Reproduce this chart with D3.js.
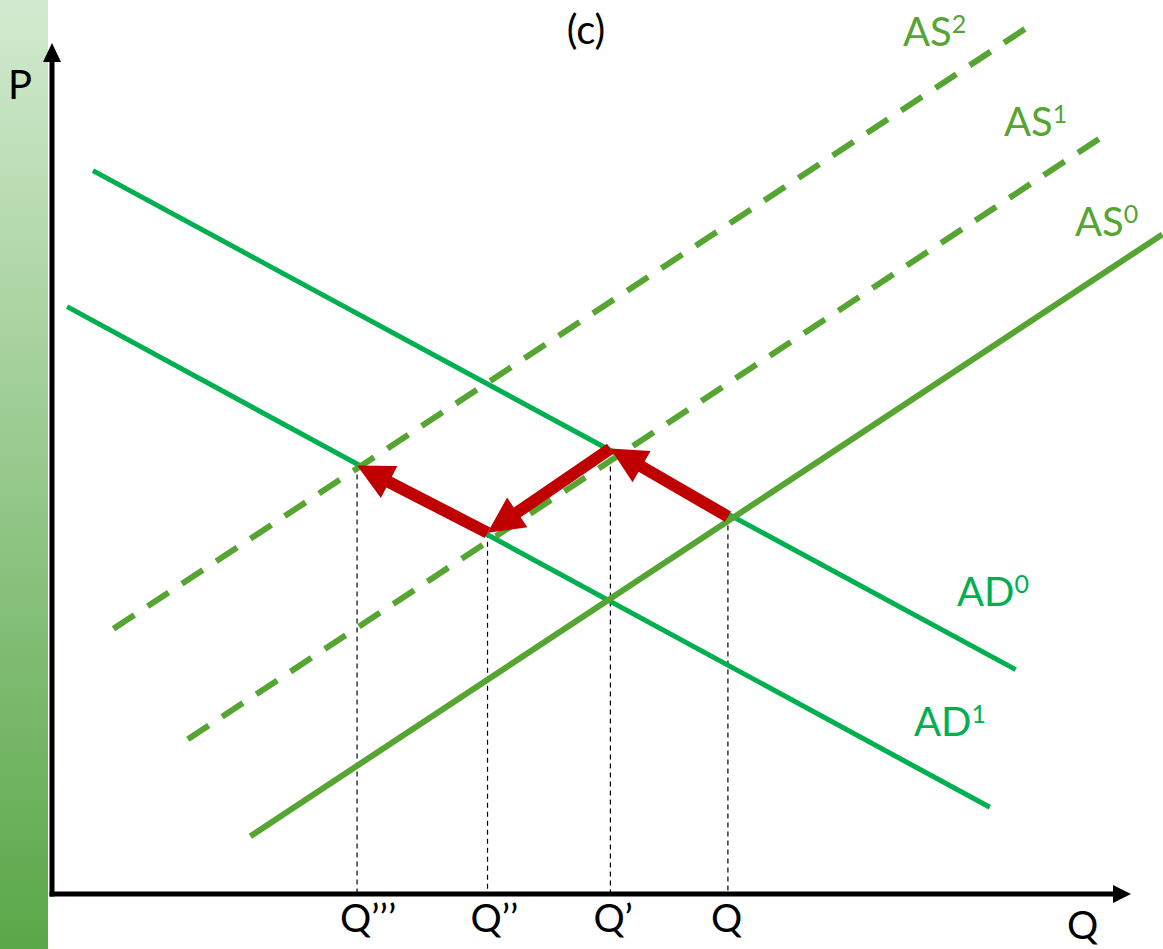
<!DOCTYPE html>
<html>
<head>
<meta charset="utf-8">
<script src="https://cdn.jsdelivr.net/npm/d3@7"></script>
<style>
  html, body { margin: 0; padding: 0; background: #fff; }
  svg { display: block; font-family: Lato, "Open Sans", sans-serif; }
</style>
</head>
<body>
<svg id="chart" width="1163" height="949"></svg>
<script>
// Curves (quantity/price endpoints, 0–100 index units)
const curveIds   = ["AD0", "AD1", "AS0", "AS1", "AS2"];
const curveBase  = ["AD", "AD", "AS", "AS", "AS"];
const curveSup   = ["0", "1", "0", "1", "2"];
const curveQ0    = [3.8, 1.4, 18.4, 12.6, 5.7];
const curveP0    = [85.1, 69.1, 6.8, 18.2, 31.2];
const curveQ1    = [89.4, 87.0, 103.0, 97.2, 90.3];
const curveP1    = [26.4, 10.2, 77.6, 88.9, 101.8];
const curveDashed = [false, false, false, true, true];

// Successive equilibria, in the order the arrows follow them
const eqLabels   = ["Q", "Q\u2019", "Q\u2019\u2019", "Q\u2019\u2019\u2019"];
const eqQuantity = [62.7, 51.8, 40.4, 28.3];
const eqPrice    = [44.4, 52.4, 42.5, 50.4];

const title = "(c)";
const xAxisLabel = "Q";
const yAxisLabel = "P";

const svg = d3.select("#chart");
const W = 1163, H = 949;

const x = d3.scaleLinear().domain([0, 100]).range([52, 1130]);
const y = d3.scaleLinear().domain([0, 100]).range([894, 44]);

// Green side band
const defs = svg.append("defs");
const grad = defs.append("linearGradient")
  .attr("id", "band").attr("x1", 0).attr("y1", 0).attr("x2", 0).attr("y2", 1);
grad.append("stop").attr("offset", "0%").attr("stop-color", "#d2eacf");
grad.append("stop").attr("offset", "100%").attr("stop-color", "#5aa748");
svg.append("rect").attr("x", 0).attr("y", 0).attr("width", 48).attr("height", H)
  .attr("fill", "url(#band)");

const colAD = "#00b050";
const colAS = "#56a532";

// Dotted guides from each equilibrium to the quantity axis
const guides = svg.append("g");
eqQuantity.forEach((q, i) => {
  guides.append("line")
    .attr("x1", x(q)).attr("x2", x(q))
    .attr("y1", y(eqPrice[i])).attr("y2", y(0))
    .attr("stroke", "#000").attr("stroke-width", 1.2)
    .attr("stroke-dasharray", "5,4");
});

// Supply and demand curves
const curves = svg.append("g");
curveIds.forEach((id, i) => {
  const isAD = curveBase[i] === "AD";
  const ln = curves.append("line")
    .attr("x1", x(curveQ0[i])).attr("y1", y(curveP0[i]))
    .attr("x2", x(curveQ1[i])).attr("y2", y(curveP1[i]))
    .attr("stroke", isAD ? colAD : colAS)
    .attr("stroke-width", isAD ? 5 : 6);
  if (curveDashed[i]) ln.attr("stroke-dasharray", "25,16");
});

// Curve labels with superscripts
const labelPos = {
  AD0: [957, 606], AD1: [914, 736],
  AS0: [1075, 236], AS1: [1004, 136], AS2: [903, 46]
};
curveIds.forEach((id, i) => {
  const isAD = curveBase[i] === "AD";
  const t = svg.append("text")
    .attr("x", labelPos[id][0]).attr("y", labelPos[id][1])
    .attr("fill", isAD ? colAD : colAS)
    .attr("font-size", 40);
  t.append("tspan").text(curveBase[i]);
  t.append("tspan").attr("font-size", 25).attr("dy", -13).text(curveSup[i]);
});

// Red arrows between successive equilibria
const arrows = svg.append("g");
function arrowPolygon(x0, y0, x1, y1) {
  const dx = x1 - x0, dy = y1 - y0;
  const len = Math.hypot(dx, dy);
  const ux = dx / len, uy = dy / len;
  const nx = -uy, ny = ux;
  const shaft = 6, head = 18, headLen = 36;
  const bx = x1 - ux * headLen, by = y1 - uy * headLen;
  const pts = [
    [x0 + nx * shaft, y0 + ny * shaft],
    [bx + nx * shaft, by + ny * shaft],
    [bx + nx * head, by + ny * head],
    [x1, y1],
    [bx - nx * head, by - ny * head],
    [bx - nx * shaft, by - ny * shaft],
    [x0 - nx * shaft, y0 - ny * shaft]
  ];
  return pts.map(p => p.join(",")).join(" ");
}
for (let i = 0; i < eqQuantity.length - 1; i++) {
  arrows.append("polygon")
    .attr("points", arrowPolygon(
      x(eqQuantity[i]), y(eqPrice[i]),
      x(eqQuantity[i + 1]), y(eqPrice[i + 1])))
    .attr("fill", "#c00000");
}

// Axes
const axes = svg.append("g");
axes.append("line")
  .attr("x1", x(0)).attr("y1", y(0) + 2.5)
  .attr("x2", x(0)).attr("y2", 58)
  .attr("stroke", "#000").attr("stroke-width", 5);
axes.append("polygon")
  .attr("points", `${x(0) - 9},62 ${x(0) + 9},62 ${x(0)},43`)
  .attr("fill", "#000");
axes.append("line")
  .attr("x1", x(0) - 2.5).attr("y1", y(0))
  .attr("x2", 1116).attr("y2", y(0))
  .attr("stroke", "#000").attr("stroke-width", 5);
axes.append("polygon")
  .attr("points", `1113,${y(0) - 9} 1113,${y(0) + 9} 1131,${y(0)}`)
  .attr("fill", "#000");

// Quantity tick labels
eqQuantity.forEach((q, i) => {
  svg.append("text")
    .attr("x", x(q) - 17).attr("y", 932)
    .attr("font-size", 39).attr("fill", "#000")
    .text(eqLabels[i]);
});

svg.append("text").attr("x", 1067).attr("y", 939)
  .attr("font-size", 39).attr("fill", "#000").text(xAxisLabel);
svg.append("text").attr("x", 8).attr("y", 99)
  .attr("font-size", 40).attr("fill", "#000").text(yAxisLabel);
svg.append("text").attr("x", 586).attr("y", 44)
  .attr("text-anchor", "middle")
  .attr("font-size", 40).attr("fill", "#000").text(title);
</script>
</body>
</html>
